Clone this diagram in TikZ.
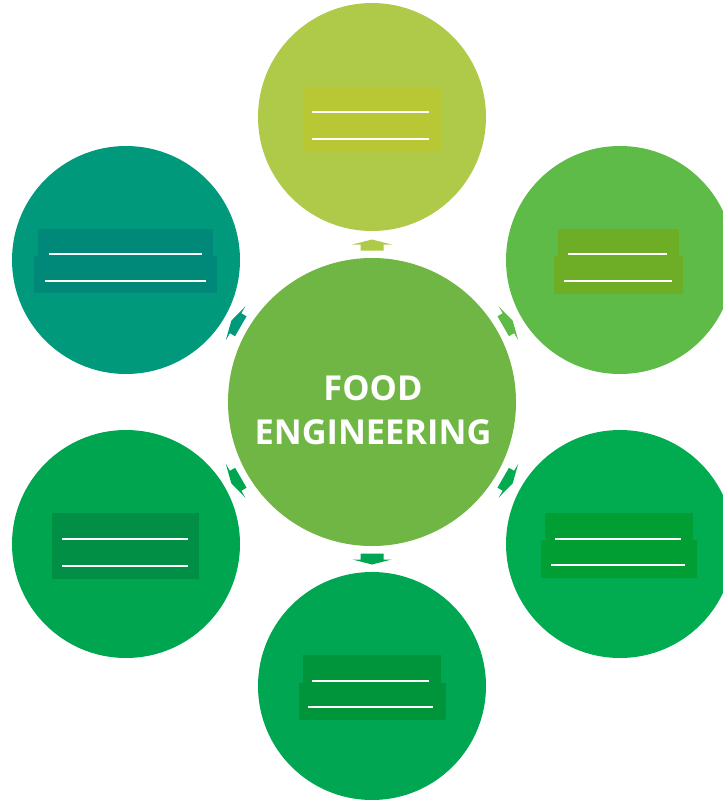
\documentclass[tikz,border=0pt]{standalone}
\usepackage{fontspec}
\setmainfont{Open Sans}
\definecolor{hubc}{HTML}{6FB644}
\definecolor{topc}{HTML}{AECA48}
\definecolor{topbox}{HTML}{B8C834}
\definecolor{trc}{HTML}{5FBB47}
\definecolor{trbox}{HTML}{6EAE26}
\definecolor{brc}{HTML}{00AC4F}
\definecolor{brbox}{HTML}{009E33}
\definecolor{botc}{HTML}{00A651}
\definecolor{botbox}{HTML}{00953A}
\definecolor{blc}{HTML}{00A550}
\definecolor{blbox}{HTML}{008F45}
\definecolor{tlc}{HTML}{00997B}
\definecolor{tlbox}{HTML}{008878}
\begin{document}
\begin{tikzpicture}[x=1bp, y=-1bp,
    hub/.style ={circle, fill=hubc, minimum size=288bp, inner sep=0pt},
    title/.style ={text=white, inner sep=0pt, align=center,
                 font=\bfseries\fontsize{34.5}{44}\selectfont},
    petal/.style ={circle, minimum size=228bp, inner sep=0pt},
    rule/.style ={white, line width=1.3bp}]
   \useasboundingbox (0,0) rectangle (723,800);
   \node[hub] (core) at (372,402) {};
   \node[title] (name) at (373,410) {FOOD\\ENGINEERING};
   \node[petal, fill=topc] (top) at (372,117) {};
   \node[petal, fill=trc] (topright) at (620,260) {};
   \node[petal, fill=brc] (botright) at (620,544) {};
   \node[petal, fill=botc] (bottom) at (372,686) {};
   \node[petal, fill=blc] (botleft) at (126,544) {};
   \node[petal, fill=tlc] (topleft) at (126,260) {};
   \foreach \ang/\col in {90/topc, 30/trc, -30/brc, -90/botc, -150/blc, 150/tlc}
      \fill[\col, shift={(core.center)}, rotate=\ang]
         (151.5,-11.5) -- (157.5,-11.5) -- (157.5,-19.5) -- (162.5,0)
         -- (157.5,19.5) -- (157.5,11.5) -- (151.5,11.5) -- cycle;
   \fill[topbox] (303,87) rectangle (441,151);
   \draw[rule] (312,112) -- (429,112);
   \draw[rule] (312,139) -- (429,139);
   \fill[trbox] (558,229) rectangle (679,260);
   \fill[trbox] (554,256) rectangle (683,294);
   \draw[rule] (568,254) -- (667,254);
   \draw[rule] (564,281) -- (672,281);
   \fill[tlbox] (38,229) rectangle (213,260);
   \fill[tlbox] (34,256) rectangle (217,293);
   \draw[rule] (49,254) -- (202,254);
   \draw[rule] (45,281) -- (206,281);
   \fill[blbox] (52,513) rectangle (199,579);
   \draw[rule] (62,539) -- (188,539);
   \draw[rule] (62,566) -- (188,566);
   \fill[brbox] (545,513) rectangle (693,545);
   \fill[brbox] (541,540) rectangle (697,578);
   \draw[rule] (555,539) -- (681,539);
   \draw[rule] (551,565) -- (685,565);
   \fill[botbox] (303,655) rectangle (441,688);
   \fill[botbox] (299,683) rectangle (446,720);
   \draw[rule] (312,681) -- (429,681);
   \draw[rule] (308,707) -- (433,707);
\end{tikzpicture}
\end{document}
